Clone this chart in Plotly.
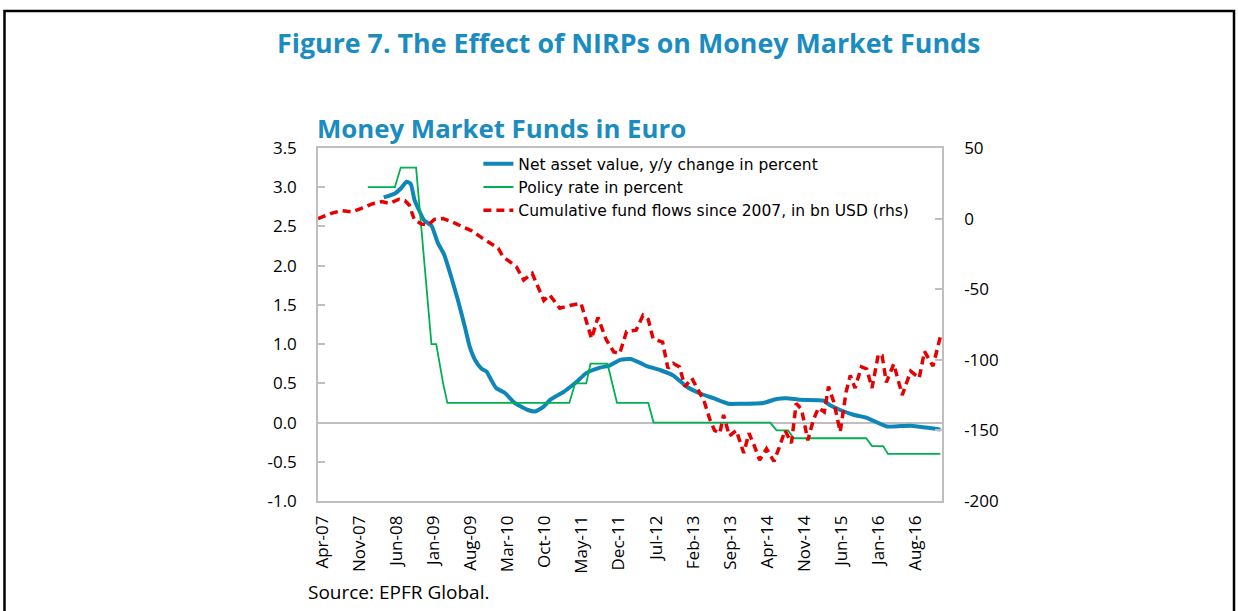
import plotly.graph_objects as go

# x axis: months since Apr-2007
tick_months = [0, 7, 14, 21, 28, 35, 42, 49, 56, 63, 70, 77, 84, 91, 98, 105, 112]
tick_labels = ["Apr-07", "Nov-07", "Jun-08", "Jan-09", "Aug-09", "Mar-10", "Oct-10", "May-11",
               "Dec-11", "Jul-12", "Feb-13", "Sep-13", "Apr-14", "Nov-14", "Jun-15", "Jan-16", "Aug-16"]

# Net asset value, y/y change in percent (lhs)
nav_m = [12.4, 14.5, 15.7, 16.7, 17.5, 18.2, 18.9, 20.0, 21.4, 22.6, 23.8, 25.2, 26.4, 27.7, 28.6,
         29.6, 30.8, 31.8, 32.7, 33.6, 35.2, 37.1, 39.6, 40.9, 42.5, 43.8, 46.3, 47.5, 48.8, 50.6,
         53.2, 55.1, 57.0, 58.9, 60.8, 62.0, 64.5, 67.0, 69.5, 72.1, 74.6, 77.4, 79.6, 84.0, 86.5,
         88.4, 90.9, 95.3, 96.6, 98.5, 101.0, 103.5, 107.3, 111.7, 115.5, 117.4]
nav_v = [2.87, 2.92, 2.99, 3.07, 3.04, 2.84, 2.73, 2.58, 2.51, 2.29, 2.14, 1.84, 1.56, 1.22, 0.97,
         0.80, 0.69, 0.65, 0.54, 0.44, 0.38, 0.25, 0.16, 0.14, 0.20, 0.29, 0.39, 0.45, 0.52, 0.63,
         0.70, 0.73, 0.80, 0.81, 0.76, 0.72, 0.67, 0.60, 0.46, 0.37, 0.31, 0.24, 0.24, 0.25, 0.30,
         0.31, 0.29, 0.28, 0.22, 0.16, 0.10, 0.06, -0.05, -0.04, -0.07, -0.09]

# Policy rate in percent (lhs)
pol_m = [9.4, 14.5, 15.6, 18.5, 21.4, 22.3, 23.6, 24.4, 47.4, 48.5, 50.6, 51.4, 54.6, 56.4, 62.3,
         63.3, 85.3, 86.5, 88.7, 89.7, 103.4, 104.5, 106.6, 107.5, 117.4]
pol_v = [3.0, 3.0, 3.25, 3.25, 1.0, 1.0, 0.5, 0.25, 0.25, 0.5, 0.5, 0.75, 0.75, 0.25, 0.25,
         0.0, 0.0, -0.1, -0.1, -0.2, -0.2, -0.3, -0.3, -0.4, -0.4]

# Cumulative fund flows since 2007, bn USD (rhs)
flow_m = [0, 2.5, 4.4, 6.3, 8.2, 10.1, 12.0, 13.5, 15.3, 16.4, 17.2, 18.2, 19.5, 20.8, 22.0, 23.6,
          25.2, 27.0, 28.9, 30.8, 32.7, 34.0, 34.9, 36.2, 37.4, 38.8, 40.4, 42.6, 43.7, 45.6, 47.5,
          49.6, 51.6, 52.8, 54.4, 55.8, 56.9, 58.2, 60.0, 61.3, 62.3, 63.2, 65.0, 66.0, 67.0, 68.2,
          69.2, 70.5, 71.6, 72.8, 73.9, 74.8, 75.8, 76.5, 77.6, 78.9, 80.3, 81.3, 82.3, 83.3, 84.6,
          86.0, 87.0, 88.1, 89.3, 90.2, 91.2, 92.4, 93.4, 94.4, 95.5, 96.3, 97.3, 98.5, 99.6, 100.4,
          101.3, 102.5, 103.5, 104.5, 105.7, 106.4, 107.2, 108.6, 110.2, 111.8, 113.4, 114.4, 116.0,
          117.4]
flow_v = [0, 3.7, 5.6, 4.7, 7.3, 10.3, 12.0, 10.8, 13.7, 12.7, 9.6, -1.0, -3.8, -4.5, -0.5, 0.0,
          -2.2, -5.2, -8.5, -13.3, -17.5, -21.0, -27.0, -30.5, -34.0, -43.5, -38.8, -58.0, -54.0,
          -63.5, -61.5, -60.0, -85.0, -70.0, -86.0, -94.5, -95.5, -80.0, -79.0, -68.5, -71.5, -85.0,
          -87.5, -106.0, -102.5, -105.0, -119.0, -113.0, -121.0, -129.0, -142.0, -150.0, -152.0,
          -139.0, -154.0, -150.0, -166.0, -152.0, -161.0, -171.0, -163.0, -172.0, -162.0, -150.0,
          -159.0, -131.0, -135.0, -157.0, -143.0, -134.0, -137.0, -119.0, -130.0, -151.0, -123.0,
          -111.0, -120.0, -105.0, -106.5, -120.0, -96.0, -97.0, -116.0, -103.0, -125.0, -108.0,
          -113.0, -94.0, -104.5, -83.5]

left_ticks = [3.5, 3.0, 2.5, 2.0, 1.5, 1.0, 0.5, 0.0, -0.5, -1.0]
left_labels = ["3.5", "3.0", "2.5", "2.0", "1.5", "1.0", "0.5", "0.0", "-0.5", "-1.0"]
right_ticks = [50, 0, -50, -100, -150, -200]
right_labels = ["50", "0", "-50", "-100", "-150", "-200"]

BLUE = "#0F86B8"
GREEN = "#00B050"
RED = "#E60000"
GRAY = "#BFBFBF"
TITLE_BLUE = "#1A8CC0"
FONT = "Open Sans"

fig = go.Figure()
fig.add_trace(go.Scatter(x=nav_m, y=nav_v, mode="lines", name="Net asset value, y/y change in percent",
                         line=dict(color=BLUE, width=4, shape="spline", smoothing=0.5)))
fig.add_trace(go.Scatter(x=pol_m, y=pol_v, mode="lines", name="Policy rate in percent",
                         line=dict(color=GREEN, width=1.8)))
fig.add_trace(go.Scatter(x=flow_m, y=flow_v, mode="lines", yaxis="y2",
                         name="Cumulative fund flows since 2007, in bn USD (rhs)",
                         line=dict(color=RED, width=3.5, dash="8px,5px")))

XR = [0, 117.7]
fig.update_layout(
    width=1238, height=611,
    margin=dict(l=318, r=296, t=148, b=110),
    paper_bgcolor="white", plot_bgcolor="white",
    font=dict(family=FONT, size=17, color="black"),
    showlegend=True,
    legend=dict(x=0.257, y=1.002, xanchor="left", yanchor="top", bgcolor="rgba(0,0,0,0)",
                font=dict(size=15.5, family="DejaVu Sans"), tracegroupgap=0),
    xaxis=dict(range=XR, tickmode="array", tickvals=tick_months, ticktext=tick_labels,
               tickangle=-90, ticks="", showline=True, mirror=True, linecolor=GRAY, linewidth=1.5,
               showgrid=False, zeroline=False, tickfont=dict(size=17),
               ticklabelstandoff=6, ticklabelshift=4),
    xaxis2=dict(range=XR, overlaying="x", anchor="free", position=1 / 4.5, side="bottom",
                tickmode="array", tickvals=tick_months[1:], ticks="inside", ticklen=6,
                tickcolor=GRAY, tickwidth=1.5, showticklabels=False, showline=False,
                showgrid=False, zeroline=False),
    yaxis=dict(range=[-1, 3.5], tickmode="array", tickvals=left_ticks, ticktext=left_labels,
               ticks="inside", ticklen=7, tickcolor=GRAY, tickwidth=1.5, showline=True,
               linecolor=GRAY, linewidth=1.5, showgrid=False, zeroline=True, zerolinecolor=GRAY,
               zerolinewidth=1.5, ticklabelstandoff=16, tickfont=dict(size=17)),
    yaxis2=dict(range=[-200, 50], overlaying="y", side="right", tickmode="array",
                tickvals=right_ticks, ticktext=right_labels, ticks="inside", ticklen=7,
                tickcolor=GRAY, tickwidth=1.5, showline=True, linecolor=GRAY, linewidth=1.5,
                showgrid=False, zeroline=False, ticklabelstandoff=17, tickfont=dict(size=17)),
)

# plot area: x 318..942 px, y 148..501 px
def px_x(p):
    return (p - 318) / 624.0

def px_y(p):
    return (501 - p) / 353.0

fig.add_shape(type="rect", xref="paper", yref="paper", x0=px_x(4.5), x1=px_x(1234),
              y0=px_y(640), y1=px_y(11), line=dict(color="black", width=2.5), layer="above")

fig.add_annotation(text="<b>Figure 7. The Effect of NIRPs on Money Market Funds</b>", xref="paper",
                   yref="paper", x=px_x(628), y=px_y(43), showarrow=False,
                   font=dict(family=FONT, size=26.8, color=TITLE_BLUE), xanchor="center", yanchor="middle")
fig.add_annotation(text="<b>Money Market Funds in Euro</b>", xref="paper", yref="paper",
                   x=px_x(315), y=px_y(128), showarrow=False,
                   font=dict(family=FONT, size=25.8, color=TITLE_BLUE), xanchor="left", yanchor="middle")
fig.add_annotation(text="Source: EPFR Global.", xref="paper", yref="paper",
                   x=px_x(306), y=px_y(592), showarrow=False,
                   font=dict(family=FONT, size=19, color="black"), xanchor="left", yanchor="middle")

fig.write_html("out.html", config={"displayModeBar": False},
               post_script="document.body.style.margin='0px';")
